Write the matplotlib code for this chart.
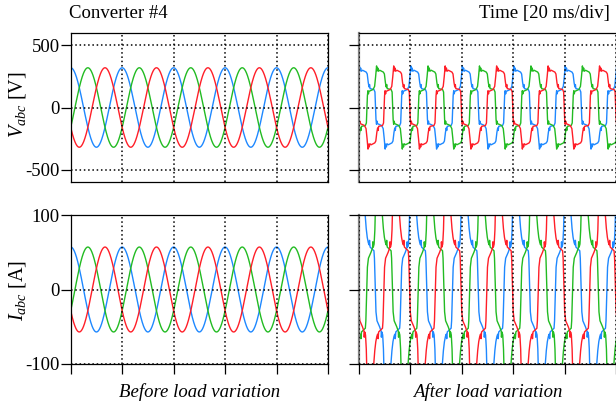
import numpy as np
import matplotlib
matplotlib.use("Agg")
import matplotlib.pyplot as plt

# ---------------- data ----------------
# time axis (ms): 5 divisions of 20 ms
TIME_TICKS = [0, 20, 40, 60, 80, 100]
PERIOD_MS = 20.0                      # 50 Hz fundamental

# before load variation: balanced sinusoids
V_PEAK_BEFORE = 320.0                 # V
I_PEAK_BEFORE = 57.0                  # A
PHASE_ORDER = ["blue", "green", "red"]
PHASE_SHIFT_FRAC = [0.0, 1/3, 2/3]    # peak positions as fraction of period

# after load variation: one period of phase "a" (blue), breakpoints
# fraction of period -> voltage [V]
V_AFTER_F = [0.000, 0.008, 0.020, 0.032, 0.045, 0.070, 0.140, 0.160, 0.180, 0.195, 0.205, 0.215,
             0.290, 0.310, 0.330, 0.340, 0.350, 0.360, 0.440, 0.470, 0.490,
             0.500, 0.508, 0.520, 0.532, 0.545, 0.570, 0.640, 0.660, 0.680, 0.695, 0.705, 0.715,
             0.790, 0.810, 0.830, 0.840, 0.850, 0.860, 0.940, 0.970, 0.990]
V_AFTER_V = [300, 335, 295, 318, 292, 300, 285, 270, 200, 165, 185, 152,
             145, 125, -95, -135, -110, -130, -145, -170, -250,
             -300, -335, -295, -318, -292, -300, -285, -270, -200, -165, -185, -152,
             -145, -125, 95, 135, 110, 130, 145, 170, 250]
# fraction of period -> current [A] (clipped by the +-100 A axis)
I_AFTER_F = [0.000, 0.100, 0.120, 0.140, 0.160, 0.180, 0.195, 0.205, 0.215, 0.290, 0.300, 0.330,
             0.350, 0.400, 0.430, 0.435, 0.445, 0.460, 0.475, 0.490,
             0.500, 0.600, 0.620, 0.640, 0.660, 0.680, 0.695, 0.705, 0.715, 0.790, 0.800, 0.830,
             0.850, 0.900, 0.930, 0.935, 0.945, 0.960, 0.975, 0.990]
I_AFTER_A = [150, 130, 100, 82, 70, 63, 60, 66, 57, 52, 42, -30,
             -42, -50, -56, -64, -57, -61, -80, -125,
             -150, -130, -100, -82, -70, -63, -60, -66, -57, -52, -42, 30,
             42, 50, 56, 64, 57, 61, 80, 125]

V_TICKS = [-500, 0, 500]
I_TICKS = [-100, 0, 100]

COLORS = {"blue": "#1e88ff", "green": "#22bb22", "red": "#ff1e28"}

# ---------------- style ----------------
plt.rcParams["font.family"] = ["Liberation Serif", "DejaVu Serif"]
plt.rcParams["mathtext.fontset"] = "custom"
plt.rcParams["mathtext.rm"] = "Liberation Serif"
plt.rcParams["mathtext.it"] = "Liberation Serif:italic"
plt.rcParams["axes.unicode_minus"] = False
FS = 13.5

W, H = 616, 407
fig = plt.figure(figsize=(W / 100, H / 100), dpi=100)


def rect(x0, y0, x1, y1):
    return [x0 / W, 1 - y1 / H, (x1 - x0) / W, (y1 - y0) / H]


ax_vl = fig.add_axes(rect(70.7, 33, 328, 182))
ax_il = fig.add_axes(rect(70.7, 215, 328, 364))
ax_vr = fig.add_axes(rect(359, 33, 616.3, 182))
ax_ir = fig.add_axes(rect(359, 215, 616.3, 364))

t = np.linspace(0, 100, 2001)
for name, sh in zip(PHASE_ORDER, PHASE_SHIFT_FRAC):
    ph = 2 * np.pi * (t / PERIOD_MS - sh)
    ax_vl.plot(t, V_PEAK_BEFORE * np.cos(ph), color=COLORS[name], lw=1.0)
    ax_il.plot(t, I_PEAK_BEFORE * np.cos(ph), color=COLORS[name], lw=1.0)


def tiled(fracs, vals, shift):
    xs, ys = [], []
    for k in range(-1, 6):
        for f, v in zip(fracs, vals):
            xs.append((f + shift + k) * PERIOD_MS)
            ys.append(v)
    return np.array(xs), np.array(ys)


for name, sh in zip(PHASE_ORDER, PHASE_SHIFT_FRAC):
    x, y = tiled(V_AFTER_F, V_AFTER_V, sh)
    ax_vr.plot(x, y, color=COLORS[name], lw=1.0)
    x, y = tiled(I_AFTER_F, I_AFTER_A, sh)
    ax_ir.plot(x, y, color=COLORS[name], lw=1.0)

for ax, lim, ticks, top in [(ax_vl, 600, V_TICKS, True), (ax_vr, 600, V_TICKS, True),
                            (ax_il, 100, I_TICKS, False), (ax_ir, 100, I_TICKS, False)]:
    ax.set_xlim(0, 100)
    ax.set_ylim(-lim, lim)
    ax.set_xticks(TIME_TICKS)
    ax.set_yticks(ticks)
    ax.grid(True, color="black", linestyle=(0, (1, 1.8)), linewidth=1.1)
    ax.set_axisbelow(False)
    for sp in ax.spines.values():
        sp.set_linewidth(0.9)
        sp.set_color("black")
    ax.tick_params(axis="y", direction="out", length=7.5, width=0.9, pad=0.5, labelsize=FS)
    ax.tick_params(axis="x", direction="out", length=7, width=0.9, labelbottom=False)
    if top:
        ax.tick_params(axis="x", length=0)

for ax in (ax_vr, ax_ir):
    ax.tick_params(axis="y", labelleft=False)
    ax.spines["left"].set_color("#7f7f7f")
    ax.spines["left"].set_linewidth(1.6)
    ax.spines["right"].set_color("#9a9a9a")

ax_vl.set_yticklabels(["-500", "0", "500"])
ax_il.set_yticklabels(["-100", "0", "100"])

fig.text(17.5 / W, 1 - 105 / H, r"$V_{abc}$ [V]", rotation=90, ha="center", va="center", fontsize=14.5)
fig.text(17.5 / W, 1 - 290 / H, r"$I_{abc}$ [A]", rotation=90, ha="center", va="center", fontsize=14.5)
fig.text(69 / W, 1 - 18.3 / H, "Converter #4", ha="left", va="baseline", fontsize=FS)
fig.text(610 / W, 1 - 18.3 / H, "Time [20 ms/div]", ha="right", va="baseline", fontsize=FS)
fig.text(199.4 / W, 1 - 397 / H, "Before load variation", ha="center", va="baseline",
         fontsize=FS, style="italic")
fig.text(487.5 / W, 1 - 397 / H, "After load variation", ha="center", va="baseline",
         fontsize=FS, style="italic")

fig.savefig("out.png", dpi=100)
